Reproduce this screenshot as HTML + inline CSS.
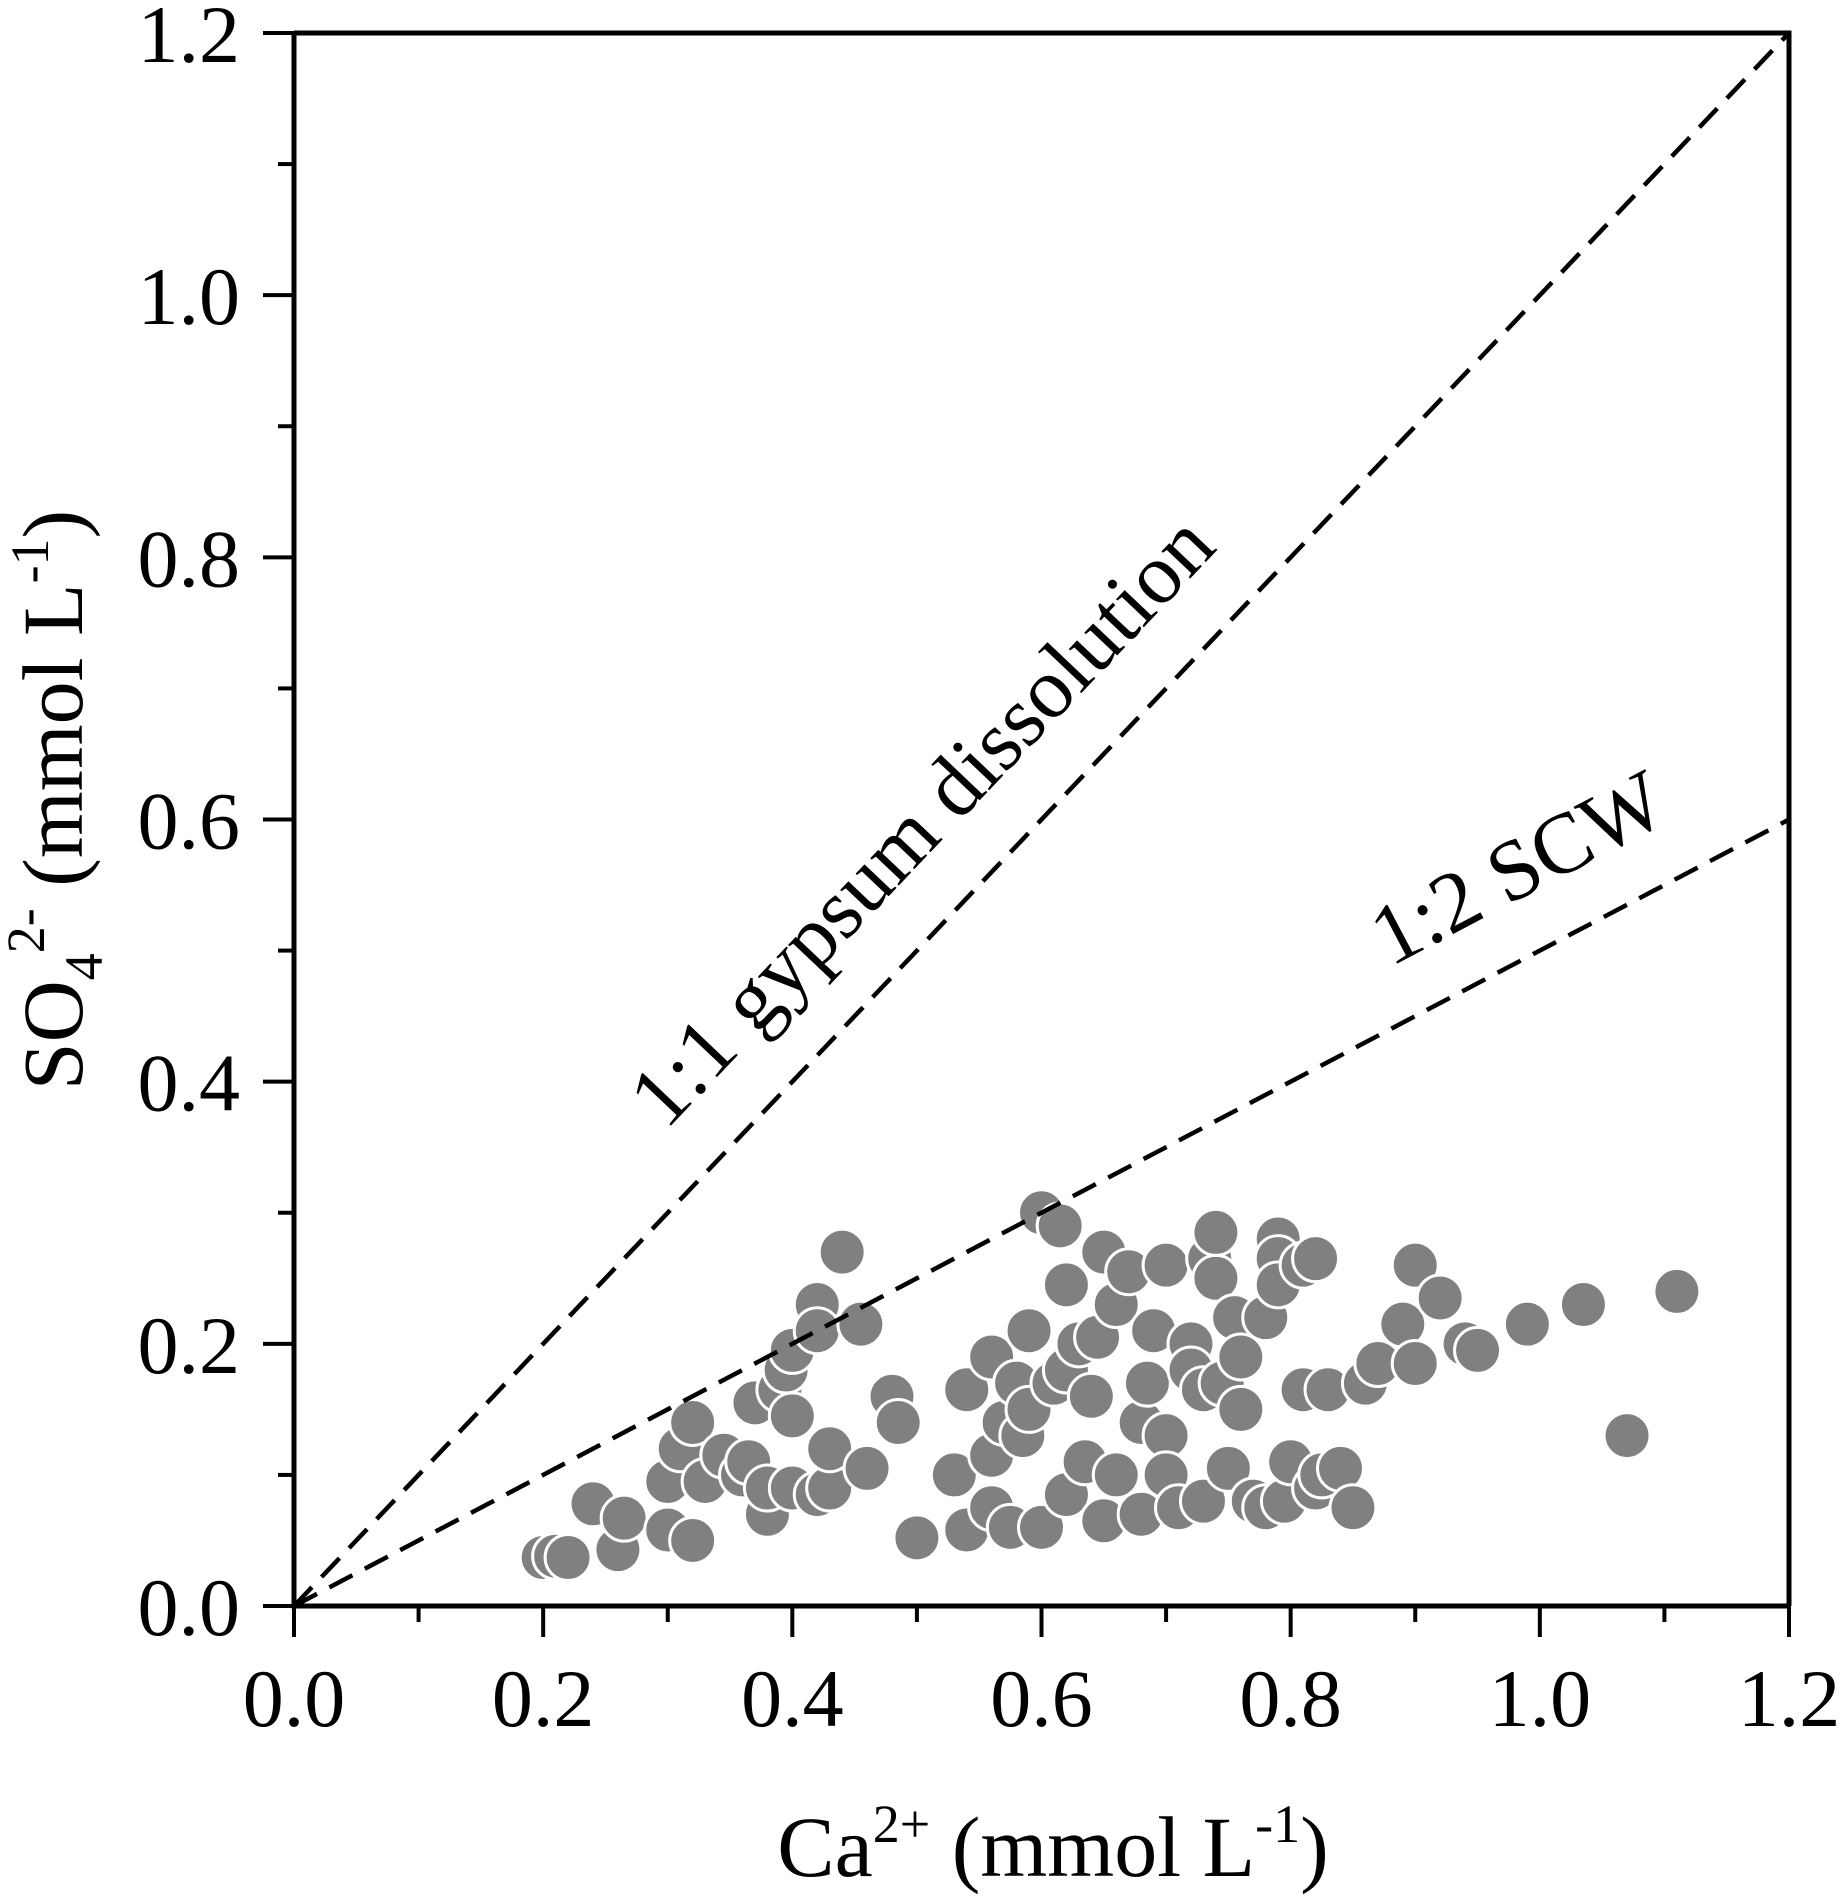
<!DOCTYPE html>
<html><head><meta charset="utf-8"><style>
html,body{margin:0;padding:0;background:#fff;}
svg{display:block;font-family:"Liberation Serif",serif;}
</style></head><body>
<svg id="chart" width="1840" height="1898" viewBox="0 0 1840 1898">
<g id="points"></g>
<g id="lines"></g>
<g id="axes"></g>
<text font-size="86" text-anchor="middle" transform="translate(942,840) rotate(-46.5)">1:1 gypsum dissolution</text>
<text font-size="86" text-anchor="middle" transform="translate(1531,893) rotate(-27.8)">1:2 SCW</text>
<text font-size="86" text-anchor="middle" x="1053" y="1876">Ca<tspan font-size="54" dy="-34">2+</tspan><tspan dy="34"> (mmol L</tspan><tspan font-size="54" dy="-34">-1</tspan><tspan dy="34">)</tspan></text>
<text font-size="86" text-anchor="middle" transform="translate(82,800) rotate(-90)">SO<tspan font-size="54" dy="20">4</tspan><tspan font-size="54" dy="-58">2-</tspan><tspan dy="38"> (mmol L</tspan><tspan font-size="54" dy="-34">-1</tspan><tspan dy="34">)</tspan></text>
</svg>
<script>
const xs=[0.20,0.21,0.22,0.24,0.26,0.265,0.30,0.30,0.31,0.32,0.32,0.33,0.345,0.36,0.365,0.37,0.38,0.38,0.39,0.395,0.40,0.40,0.40,0.42,0.42,0.42,0.43,0.43,0.44,0.455,0.46,0.48,0.485,0.50,0.53,0.54,0.54,0.56,0.56,0.56,0.57,0.575,0.58,0.585,0.59,0.59,0.60,0.60,0.61,0.615,0.62,0.62,0.62,0.63,0.635,0.64,0.645,0.65,0.65,0.66,0.66,0.67,0.68,0.68,0.685,0.69,0.70,0.70,0.70,0.71,0.72,0.72,0.73,0.73,0.735,0.74,0.74,0.745,0.75,0.755,0.76,0.76,0.77,0.78,0.78,0.79,0.79,0.79,0.795,0.80,0.81,0.81,0.82,0.82,0.825,0.83,0.84,0.85,0.86,0.87,0.89,0.90,0.90,0.92,0.94,0.95,0.99,1.035,1.07,1.11];
const ys=[0.037,0.038,0.037,0.078,0.043,0.067,0.058,0.095,0.12,0.14,0.05,0.095,0.115,0.10,0.11,0.155,0.07,0.09,0.165,0.18,0.195,0.145,0.09,0.23,0.21,0.085,0.09,0.12,0.27,0.215,0.105,0.16,0.14,0.052,0.10,0.165,0.058,0.19,0.115,0.075,0.14,0.06,0.17,0.13,0.21,0.15,0.30,0.06,0.17,0.29,0.245,0.18,0.085,0.20,0.11,0.16,0.205,0.27,0.065,0.23,0.10,0.255,0.07,0.14,0.17,0.21,0.26,0.13,0.10,0.075,0.20,0.18,0.165,0.08,0.265,0.25,0.285,0.17,0.105,0.22,0.15,0.19,0.08,0.22,0.075,0.28,0.265,0.245,0.08,0.11,0.165,0.26,0.09,0.265,0.10,0.165,0.105,0.075,0.17,0.185,0.215,0.26,0.185,0.235,0.20,0.195,0.215,0.23,0.13,0.24];
const xTicks=["0.0","0.2","0.4","0.6","0.8","1.0","1.2"];
const yTicks=["0.0","0.2","0.4","0.6","0.8","1.0","1.2"];
const lineSlopes=[1,0.5];
const X0=294,X1=1789,Y0=1606,Y1=33;
const sx=v=>X0+(v/1.2)*(X1-X0);
const sy=v=>Y0-(v/1.2)*(Y0-Y1);
const NS="http://www.w3.org/2000/svg";
function mk(t,a,p){const e=document.createElementNS(NS,t);for(const k in a)e.setAttribute(k,a[k]);p.appendChild(e);return e;}
const pg=document.getElementById('points');
xs.forEach((x,i)=>{const c=mk('circle',{cx:sx(x),cy:sy(ys[i]),r:23,fill:'#808080',stroke:'#fff','stroke-width':3},pg);

});
const lg=document.getElementById('lines');
lineSlopes.forEach(s=>{const l=mk('line',{x1:sx(0),y1:sy(0),x2:sx(1.2),y2:sy(1.2*s),stroke:'#000','stroke-width':4.5,'stroke-dasharray':'26,14'},lg);

});
const ag=document.getElementById('axes');
const fr=mk('path',{d:`M${X0},${Y1} H${X1} V${Y0} M${X0},${Y1} V${Y0} H${X1}`,fill:'none',stroke:'#000','stroke-width':5},ag);


for(let i=0;i<=12;i++){const v=i*0.1,maj=i%2==0,len=maj?31:16;
mk('line',{x1:sx(v),y1:Y0,x2:sx(v),y2:Y0+len,stroke:'#000','stroke-width':4},ag);
mk('line',{x1:X0,y1:sy(v),x2:X0-len,y2:sy(v),stroke:'#000','stroke-width':4},ag);}
xTicks.forEach((t,i)=>{const e=mk('text',{x:sx(i*0.2),y:1726,'font-size':82,'text-anchor':'middle'},ag);e.textContent=t;

});
yTicks.forEach((t,i)=>{const e=mk('text',{x:240,y:sy(i*0.2)+29,'font-size':82,'text-anchor':'end'},ag);e.textContent=t;

});
</script>
</body></html>
